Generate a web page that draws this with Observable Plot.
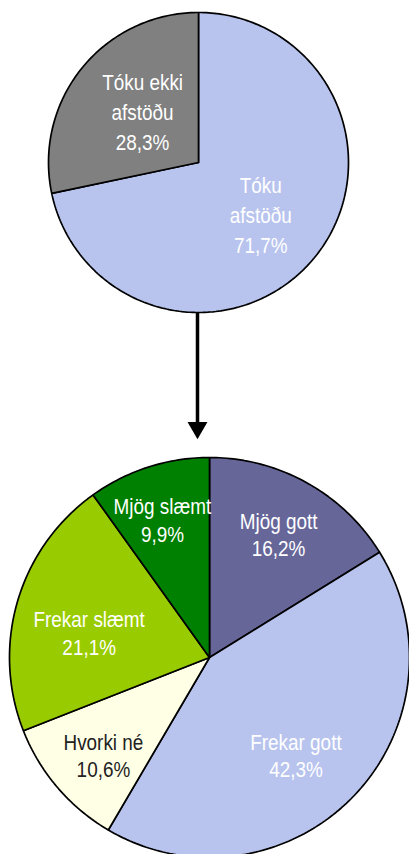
<!DOCTYPE html>
<html>
<head>
<meta charset="utf-8">
<script src="https://cdn.jsdelivr.net/npm/d3@7"></script>
<script src="https://cdn.jsdelivr.net/npm/@observablehq/plot@0.6"></script>
<style>
  html, body { margin: 0; padding: 0; background: #fff; }
  #chart svg { display: block; }
</style>
</head>
<body>
<div id="chart"></div>
<script>
// ---- data ----
const topLabels = ["Tóku\nafstöðu", "Tóku ekki\nafstöðu"];
const topValues = [71.7, 28.3];
const bottomLabels = ["Mjög gott", "Frekar gott", "Hvorki né", "Frekar slæmt", "Mjög slæmt"];
const bottomValues = [16.2, 42.3, 10.6, 21.1, 9.9];

// ---- layout / style ----
const W = 409, H = 854;
const FONT = "'Liberation Sans', Arial, sans-serif";
const NARROW = 0.86; // horizontal squeeze to imitate a narrow face
const topPie = {cx: 198, cy: 162, r: 150,
  colors: ["#B8C4EE", "#808080"], textColors: ["#ffffff", "#ffffff"],
  labelFrac: [0.535, 0.51], labelNudge: [0, 4]};
const bottomPie = {cx: 209, cy: 657, r: 200,
  colors: ["#666699", "#B8C4EE", "#FFFFE6", "#99CC00", "#008000"],
  textColors: ["#ffffff", "#ffffff", "#222222", "#ffffff", "#ffffff"],
  labelFrac: [0.71, 0.65, 0.72, 0.615, 0.73], labelNudge: [0, 4, -2, -4.5, -1]};

function fmt(v) { return v.toFixed(1).replace(".", ",") + "%"; }

function buildPie(id, labels, values, cfg) {
  const total = d3.sum(values);
  const pts = [], lbls = [];
  let acc = 0;
  values.forEach((v, i) => {
    const a0 = acc / total * 2 * Math.PI;
    acc += v;
    const a1 = acc / total * 2 * Math.PI;
    const key = id + i;
    const n = Math.max(2, Math.ceil((a1 - a0) / (Math.PI / 180)));
    pts.push({key, x: cfg.cx, y: cfg.cy});
    for (let k = 0; k <= n; k++) {
      const a = a0 + (a1 - a0) * k / n;
      pts.push({key, x: cfg.cx + cfg.r * Math.sin(a), y: cfg.cy - cfg.r * Math.cos(a)});
    }
    pts.push({key, x: cfg.cx, y: cfg.cy});
    const am = (a0 + a1) / 2 + cfg.labelNudge[i] * Math.PI / 180;
    const rr = cfg.r * cfg.labelFrac[i];
    lbls.push({key, text: labels[i] + "\n" + fmt(v),
      x: cfg.cx + rr * Math.sin(am), y: cfg.cy - rr * Math.cos(am), color: cfg.textColors[i]});
  });
  return {pts, lbls, domain: values.map((v, i) => id + i), range: cfg.colors};
}

const T = buildPie("t", topLabels, topValues, topPie);
const B = buildPie("b", bottomLabels, bottomValues, bottomPie);
const pts = T.pts.concat(B.pts);

const arrowX = 197, arrowTop = topPie.cy + topPie.r, arrowBase = 422, arrowTip = 438;

const chart = Plot.plot({
  width: W, height: H,
  margin: 0,
  x: {domain: [0, W], range: [0, W], axis: null},
  y: {domain: [0, H], range: [0, H], axis: null},
  color: {domain: T.domain.concat(B.domain), range: T.range.concat(B.range)},
  style: {fontFamily: FONT, background: "#fff"},
  marks: [
    Plot.line(pts, {x: "x", y: "y", z: "key", fill: "key", stroke: "#000", strokeWidth: 1.7, strokeLinejoin: "miter", curve: "linear"}),
    Plot.ruleX([arrowX], {y1: arrowTop, y2: arrowBase + 2, stroke: "#000", strokeWidth: 3.5}),
    Plot.dot([{x: arrowX, y: arrowTip - (arrowTip - arrowBase) * 2 / 3}], {x: "x", y: "y", symbol: "triangle", rotate: 180, r: 7.4, fill: "#000", stroke: "none"}),
    Plot.text(T.lbls, {x: "x", y: "y", text: "text", fill: "color", fontSize: 22, lineHeight: 1.36, lineAnchor: "middle", textAnchor: "middle", fontFamily: FONT}),
    Plot.text(B.lbls, {x: "x", y: "y", text: "text", fill: "color", fontSize: 22, lineHeight: 1.25, lineAnchor: "middle", textAnchor: "middle", fontFamily: FONT})
  ]
});
// squeeze label glyphs horizontally around their anchor
d3.select(chart).selectAll("text").each(function() {
  const t = this.getAttribute("transform");
  if (t) this.setAttribute("transform", t + ` scale(${NARROW},1)`);
});
document.getElementById("chart").appendChild(chart);
</script>
</body>
</html>
